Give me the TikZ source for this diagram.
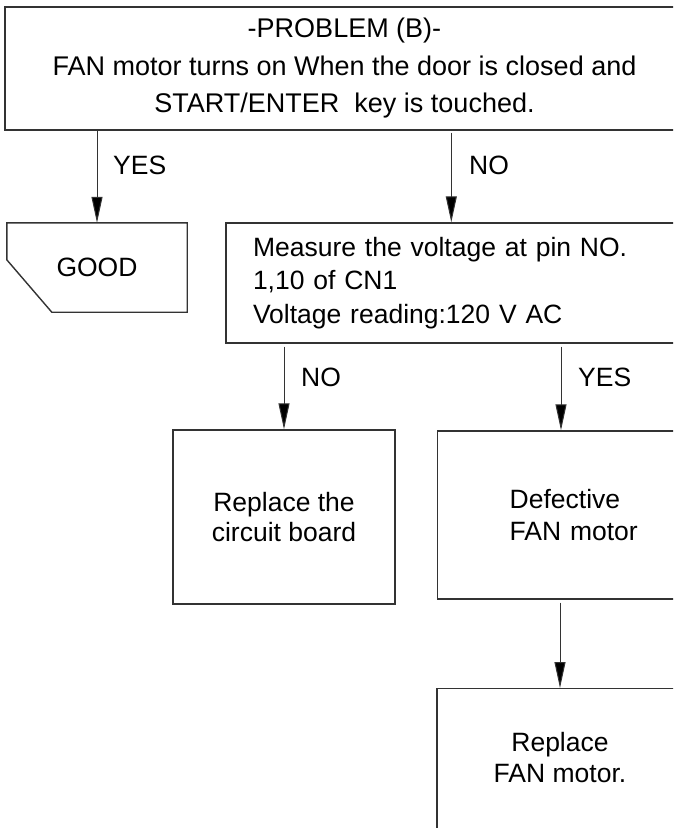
\documentclass[tikz,border=0pt]{standalone}
\usepackage{fontspec}
\setmainfont{Liberation Sans}
\usetikzlibrary{arrows.meta,calc}
\definecolor{linegray}{HTML}{333333}
\begin{document}
\begin{tikzpicture}[x=1pt,y=-1pt,
  box/.style={draw=linegray, line width=1.4pt, rectangle, inner sep=0pt},
  arr/.style={draw=linegray, line width=1pt, -{Triangle[length=26pt,width=11pt,fill=black]}},
  lbl/.style={font=\fontsize{26.5}{30}\selectfont, inner sep=0pt, anchor=west},
  txt/.style={inner sep=0pt, align=center, font=\fontsize{26.5}{31}\selectfont},
]
\useasboundingbox (0,0) rectangle (673,828);
\clip (0,0) rectangle (673,828);

% top problem box
\node[box, minimum width=679pt, minimum height=123pt, align=center,
      font=\fontsize{27}{37.5}\selectfont] (top) at (344.5,68.5)
  {-PROBLEM (B)-\\FAN motor turns on When the door is closed and\\START/ENTER\ \ key is touched.};

% GOOD (chamfered box)
\node[inner sep=0pt, minimum width=180pt, minimum height=89pt,
      font=\fontsize{26.5}{30}\selectfont] (good) at (97,267.5) {GOOD};
\draw[draw=linegray, line width=1.4pt] (good.north west) -- (good.north east) -- (good.south east)
  -- ([xshift=45pt]good.south west) -- ([yshift=-37pt]good.north west) -- cycle;

% measure box
\node[box, minimum width=474pt, minimum height=120pt, inner xsep=27pt,
      text width=420pt, align=left, font=\fontsize{26.5}{33.5}\selectfont] (meas) at (463,283)
  {Measure the voltage at pin NO.\\1,10 of CN1\\Voltage reading:120 V AC};

% replace circuit board
\node[box, minimum width=222pt, minimum height=174pt, align=center,
      font=\fontsize{26.5}{30}\selectfont] (cb) at (284,517)
  {Replace the\\circuit board};

% defective FAN motor
\node[box, anchor=west, minimum width=246pt, minimum height=168pt, inner xsep=72pt,
      text width=140pt, align=left, font=\fontsize{26.5}{32}\selectfont] (def) at (437,515)
  {Defective\\FAN motor};

% replace FAN motor
\node[box, anchor=north, minimum width=246pt, minimum height=180pt] (rep) at (560,688) {};
\node[txt] (reptxt) at (560,757.5) {Replace\\FAN motor.};

% connectors
\path ([xshift=226pt]meas.north west) coordinate (mn);
\path ([xshift=124pt]def.north west) coordinate (dn);
\draw[arr] (top.south -| good.north) -- (good.north);
\draw[arr] ([yshift=-2pt]top.south -| mn) -- (mn);
\draw[arr] ([yshift=-3pt]meas.south -| cb.north) -- (cb.north);
\draw[arr] ([yshift=-3pt]meas.south -| dn) -- (dn);
\draw[arr] ([yshift=-3pt]def.south -| rep.north) -- (rep.north);

% labels
\node[lbl] (l1) at (113,165) {YES};
\node[lbl] (l2) at (469,165) {NO};
\node[lbl] (l3) at (301,377) {NO};
\node[lbl] (l4) at (578,377) {YES};
\end{tikzpicture}
\end{document}
